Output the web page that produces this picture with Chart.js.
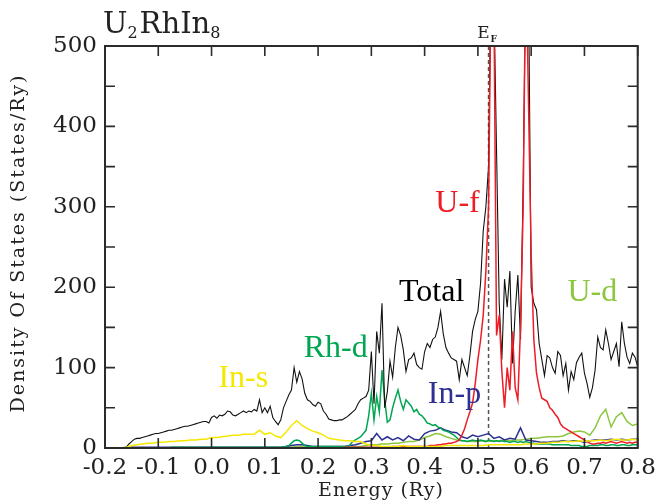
<!DOCTYPE html>
<html>
<head>
<meta charset="utf-8">
<title>U2RhIn8 density of states</title>
<script src="https://cdn.jsdelivr.net/npm/chart.js@4.4.1/dist/chart.umd.min.js"></script>
<style>
  html, body { margin: 0; padding: 0; background: #fff; }
  #wrap { width: 662px; height: 503px; position: relative; }
</style>
</head>
<body>
<div id="wrap"><canvas id="dos"></canvas></div>
<script>
// energy grids (Ry): fine one for Total / U-f / Rh-d, coarse one for the small partials
const E_START = -0.2;
const FINE_STEP = 0.005;
const COARSE_STEP = 0.01;

// Total DOS, one row per 0.1 Ry (20 samples each), last value at 0.8
const totalDos = [
  0,0,0,0,0,0,0,0,1,5, 8,11,12,12,13,14,15,16,17,18,
  18,19,20,21,22,22,23,24,25,26, 27,27,28,29,30,31,32,33,33,31,
  38,40,37,41,40,42,46,45,41,40, 42,44,46,44,46,45,48,46,60,44,
  50,44,52,38,33,29,35,50,58,66, 72,100,82,95,86,68,60,58,54,52,
  57,55,46,42,36,35,34,34,35,35, 37,39,42,45,48,55,60,62,64,72,
  120,55,145,118,180,50,70,108,88,125, 150,140,122,95,110,112,118,104,100,98,
  120,130,125,135,138,150,170,142,125,118, 112,110,108,85,110,100,90,115,145,160,
  170,205,270,300,350,620,560,370,180,110, 210,175,220,105,170,215,135,330,600,580,
  200,180,172,130,110,90,115,112,100,93, 120,115,90,105,72,95,85,106,113,118,
  93,80,63,75,97,138,125,122,147,130, 110,120,130,101,157,130,113,105,118,113,
  101
];

// U f partial DOS
const uF = [
  0,0,0,0,0,0,0,0,0,0, 0,0,0,0,0,0,0,0,0,0,
  0,0,0,0,0,0,0,0,0,0, 0,0,0,0,0,0,0,0,0,0,
  0,0,0,0,0,0,0,0,0,0, 0,0,0,0,0,0,0,0,0,0,
  0,0,0,0,0,0,0,0,0,0, 0,0,0,0,0,0,0,0,0,0,
  0,0,0,0,0,0,0,0,0,0, 1,1,1,1,1,1,1,1,1,1,
  1,1,1,1,1,1,1,1,2,2, 2,2,2,2,2,2,2,2,2,2,
  2,2,3,3,3,4,4,5,5,6, 6,7,8,10,16,24,35,45,56,80,
  110,134,165,220,300,600,560,140,165,95, 50,100,72,145,75,60,150,300,620,430,
  240,135,93,75,62,60,58,50,47,42, 38,30,26,24,22,20,18,16,14,12,
  10,8,6,5,5,6,6,7,6,7, 8,7,6,7,8,7,6,7,6,7,
  7
];

// Rh d partial DOS
const rhD = [
  0,0,0,0,0,0,0,0,0,0, 0,0,0,0,0,0,0,0,0,0,
  0,0,0,0,0,1,1,1,1,1, 1,1,1,1,1,1,1,1,1,1,
  1,1,1,1,1,1,1,1,1,1, 1,1,1,1,1,1,1,1,1,1,
  1,1,1,1,1,1,1,1,2,3, 6,9,10,9,6,3,2,2,2,2,
  2,2,2,2,2,2,2,2,2,2, 2,2,4,8,10,12,14,18,22,40,
  68,35,64,45,97,60,32,35,50,62, 72,58,48,60,56,52,45,48,42,40,
  36,31,30,28,29,26,25,22,21,20, 18,16,13,10,9,9,8,9,10,9,
  9,10,9,8,10,9,8,9,8,9, 8,8,7,8,8,7,8,7,8,7,
  6,6,5,5,5,5,5,5,4,4, 4,4,4,4,4,3,3,3,3,2,
  2,2,3,3,3,3,4,4,3,3, 4,4,3,3,4,4,3,3,4,4,
  4
];

// coarse partials, 10 samples per 0.1 Ry, last value at 0.8
const inS = [
  0,0,0,0,1,3,4,5,6,6,
  7,7,8,8,9,9,10,10,11,11,
  13,13,14,15,16,16,17,17,17,22,
  17,19,15,13,20,28,34,28,24,21,
  19,16,12,11,10,9,9,8,8,5,
  3,3,2,2,2,2,3,2,2,2,
  2,2,2,2,3,3,3,3,3,3,
  3,3,4,4,4,4,4,4,4,5,
  5,5,6,6,7,7,8,8,8,9,
  8,9,9,10,9,10,11,10,10,11,
  10
];

const inP = [
  0,0,0,0,1,1,1,1,1,1,
  1,1,1,1,1,1,1,1,1,1,
  1,1,1,1,1,1,1,1,1,1,
  1,1,1,1,2,3,4,4,3,2,
  2,2,2,2,2,2,3,4,6,8,
  9,18,10,14,10,13,9,15,11,10,
  18,21,22,25,22,20,19,14,12,16,
  14,16,18,12,14,10,12,11,25,10,
  9,8,7,7,8,8,9,8,9,9,
  7,9,10,10,10,11,10,11,10,11,
  11
];

const uD = [
  0,0,0,0,0,0,0,0,0,0,
  0,0,0,0,0,0,0,0,0,0,
  0,0,0,0,0,0,0,0,0,0,
  0,0,0,0,1,1,2,2,1,1,
  1,1,1,1,1,1,1,2,2,3,
  4,4,5,5,6,6,7,8,8,10,
  13,15,18,17,14,12,10,9,8,8,
  8,9,8,9,9,10,9,10,10,11,
  12,12,13,14,14,14,15,18,20,21,
  20,16,25,40,48,26,39,44,33,28,
  30
];

const xTicks = [-0.2, -0.1, 0.0, 0.1, 0.2, 0.3, 0.4, 0.5, 0.6, 0.7, 0.8];
const fermiEnergy = 0.52;

// series labels placed in data coordinates
const seriesLabels = [
  { text: 'U-f',   e: 0.420, v: 293, color: '#ee1c25' },
  { text: 'Total', e: 0.352, v: 183, color: '#000000' },
  { text: 'In-s',  e: 0.013, v: 76,  color: '#f5e800' },
  { text: 'Rh-d',  e: 0.173, v: 113, color: '#00a651' },
  { text: 'In-p',  e: 0.406, v: 56,  color: '#2e3192' },
  { text: 'U-d',   e: 0.668, v: 183, color: '#8dc63f' }
];

function toPoints(values, step) {
  return values.map((v, i) => ({ x: +(E_START + i * step).toFixed(3), y: v }));
}

function line(label, values, step, color, width) {
  return {
    label: label,
    data: toPoints(values, step),
    borderColor: color,
    borderWidth: width,
    pointRadius: 0,
    tension: 0,
    fill: false
  };
}

// frame, inward ticks, E_F marker, titles and series labels
const decorations = {
  id: 'decorations',
  beforeDatasetsDraw(chart) {
    const { ctx, chartArea: a, scales } = chart;
    const xf = scales.x.getPixelForValue(fermiEnergy);
    ctx.save();
    ctx.strokeStyle = '#555';
    ctx.lineWidth = 1.5;
    ctx.setLineDash([4, 3]);
    ctx.beginPath();
    ctx.moveTo(xf, a.top);
    ctx.lineTo(xf, a.bottom);
    ctx.stroke();
    ctx.restore();
  },
  afterDatasetsDraw(chart) {
    const { ctx, chartArea: a, scales } = chart;
    const tl = 10;
    ctx.save();
    ctx.strokeStyle = '#2b2b2b';
    ctx.lineWidth = 1.6;
    ctx.beginPath();
    scales.x.ticks.forEach(t => {
      const px = scales.x.getPixelForValue(t.value);
      ctx.moveTo(px, a.bottom); ctx.lineTo(px, a.bottom - tl);
      ctx.moveTo(px, a.top); ctx.lineTo(px, a.top + tl);
    });
    scales.y.ticks.forEach(t => {
      const py = scales.y.getPixelForValue(t.value);
      ctx.moveTo(a.left, py); ctx.lineTo(a.left + tl, py);
      ctx.moveTo(a.right, py); ctx.lineTo(a.right - tl, py);
    });
    ctx.stroke();
    ctx.lineWidth = 2;
    ctx.strokeRect(a.left, a.top, a.right - a.left, a.bottom - a.top);

    // chemical formula with subscripts
    ctx.fillStyle = '#222';
    ctx.textBaseline = 'alphabetic';
    ctx.textAlign = 'left';
    let x = a.left - 2;
    const parts = [['U', 0], ['2', 1], ['RhIn', 0], ['8', 1]];
    parts.forEach(([s, sub]) => {
      ctx.font = sub ? '16px "DejaVu Serif"' : '29px "DejaVu Serif"';
      ctx.fillText(s, x, sub ? 38 : 33);
      x += ctx.measureText(s).width + (sub ? 2 : 0);
    });

    // E_F label
    const xf = scales.x.getPixelForValue(fermiEnergy);
    ctx.font = '17px "DejaVu Serif"';
    const ew = ctx.measureText('E').width;
    ctx.fillText('E', xf - ew + 1, 38);
    ctx.font = 'bold 9px "DejaVu Serif"';
    ctx.fillText('F', xf + 2, 42);

    // axis titles
    ctx.font = '19px "DejaVu Serif"';
    ctx.letterSpacing = '1px';
    ctx.textAlign = 'center';
    ctx.textBaseline = 'middle';
    ctx.fillText('Energy (Ry)', 381, 491);
    ctx.translate(19, 243);
    ctx.rotate(-Math.PI / 2);
    ctx.letterSpacing = '2px';
    ctx.fillText('Density Of States (States/Ry)', 0, 0);
    ctx.restore();

    // series labels
    ctx.save();
    ctx.font = '32px "Liberation Serif"';
    ctx.textAlign = 'left';
    ctx.textBaseline = 'alphabetic';
    seriesLabels.forEach(l => {
      ctx.fillStyle = l.color;
      ctx.fillText(l.text, scales.x.getPixelForValue(l.e), scales.y.getPixelForValue(l.v));
    });
    ctx.restore();
  }
};

new Chart(document.getElementById('dos'), {
  type: 'line',
  data: {
    datasets: [
      line('In-s', inS, COARSE_STEP, '#f5e800', 1.5),
      line('U-f', uF, FINE_STEP, '#ee1c25', 1.5),
      line('Total', totalDos, FINE_STEP, '#111111', 1.1),
      line('Rh-d', rhD, FINE_STEP, '#00a651', 1.5),
      line('In-p', inP, COARSE_STEP, '#2e3192', 1.5),
      line('U-d', uD, COARSE_STEP, '#8dc63f', 1.5)
    ]
  },
  options: {
    responsive: true,
    maintainAspectRatio: false,
    animation: false,
    layout: { padding: { top: 46, right: 20, left: 0, bottom: 0 } },
    plugins: { legend: { display: false }, tooltip: { enabled: false } },
    scales: {
      x: {
        type: 'linear',
        min: -0.2,
        max: 0.8,
        afterFit: s => { s.height = 55; },
        afterBuildTicks: s => { s.ticks = xTicks.map(v => ({ value: v })); },
        grid: { display: false, drawTicks: false },
        border: { display: false },
        ticks: {
          autoSkip: false,
          maxRotation: 0,
          padding: 6,
          color: '#222',
          font: { family: 'DejaVu Serif', size: 23 },
          callback: v => (Math.abs(v) < 1e-9 ? '0.0' : v.toFixed(1))
        }
      },
      y: {
        min: 0,
        max: 500,
        afterFit: s => { s.width = 105; },
        grid: { display: false, drawTicks: false },
        border: { display: false },
        ticks: {
          stepSize: 50,
          autoSkip: false,
          padding: 8,
          color: '#222',
          font: { family: 'DejaVu Serif', size: 23 },
          callback: v => (v % 100 === 0 ? String(v) : '')
        }
      }
    }
  },
  plugins: [decorations]
});
</script>
</body>
</html>
